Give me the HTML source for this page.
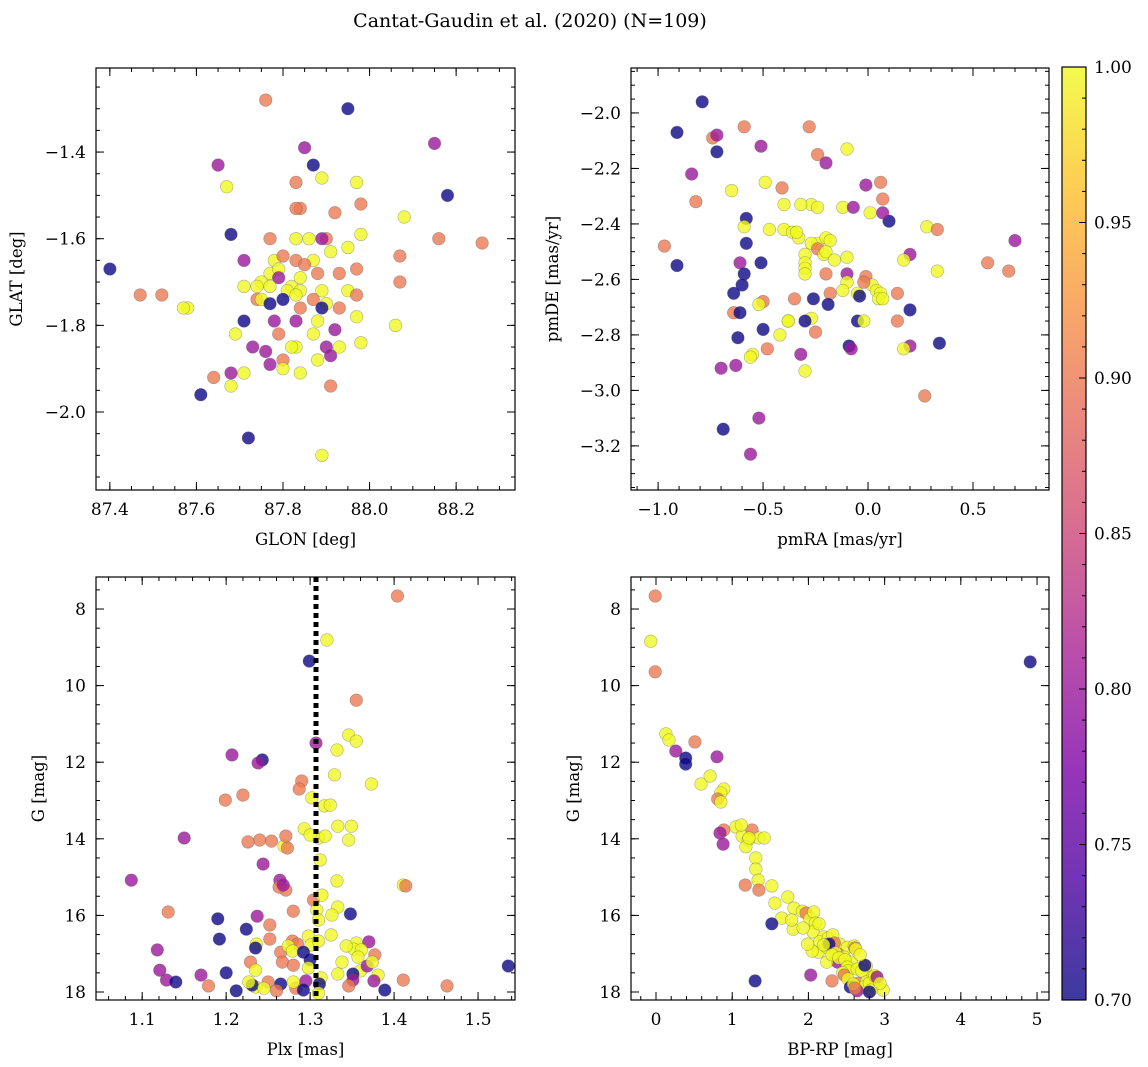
<!DOCTYPE html>
<html><head><meta charset="utf-8">
<style>
html,body{margin:0;padding:0;background:#fff;}
svg{display:block;font-family:"DejaVu Serif","Liberation Serif",serif;}
</style></head>
<body>
<svg id="fig" width="1148" height="1067" viewBox="0 0 1148 1067" xmlns="http://www.w3.org/2000/svg">
<defs>
<linearGradient id="plasma" x1="0" y1="1" x2="0" y2="0">
<stop offset="0" stop-color="#0d0887"/><stop offset="0.125" stop-color="#4c02a1"/>
<stop offset="0.25" stop-color="#7e03a8"/><stop offset="0.375" stop-color="#a92395"/>
<stop offset="0.5" stop-color="#cc4778"/><stop offset="0.625" stop-color="#e56b5d"/>
<stop offset="0.75" stop-color="#f89540"/><stop offset="0.875" stop-color="#fdc328"/>
<stop offset="1" stop-color="#f0f921"/>
</linearGradient>
</defs>
<text x="530" y="27" font-size="19" text-anchor="middle">Cantat-Gaudin et al. (2020) (N=109)</text>
</svg>
<script>
// ---------- data ----------
const glon=[87.76,87.95,87.85,88.15,87.65,87.87,87.83,87.67,87.89,87.97,87.84,87.83,87.92,87.98,88.18,88.08,87.68,87.77,87.83,87.86,87.90,87.89,87.98,88.16,88.26,88.07,87.91,87.95,87.40,87.71,87.78,87.80,87.83,87.87,87.77,87.79,87.85,87.93,87.97,88.07,87.75,87.79,87.82,87.84,87.88,87.52,87.71,87.74,87.77,87.81,87.84,87.89,87.95,87.58,87.74,87.75,87.80,87.83,87.87,87.90,87.93,87.84,87.89,87.97,87.77,87.97,88.06,87.71,87.78,87.83,87.88,87.92,87.69,87.79,87.87,87.98,87.73,87.83,87.80,87.76,87.82,87.90,87.93,87.91,87.77,87.80,87.84,87.88,87.68,87.64,87.71,87.68,87.61,87.91,87.72,87.89,87.47,87.57];
const glat=[-1.28,-1.30,-1.39,-1.38,-1.43,-1.43,-1.47,-1.48,-1.46,-1.47,-1.53,-1.53,-1.54,-1.52,-1.50,-1.55,-1.59,-1.60,-1.60,-1.60,-1.60,-1.60,-1.59,-1.60,-1.61,-1.64,-1.63,-1.62,-1.67,-1.65,-1.65,-1.64,-1.65,-1.65,-1.68,-1.67,-1.66,-1.68,-1.67,-1.70,-1.70,-1.69,-1.71,-1.69,-1.68,-1.73,-1.71,-1.71,-1.71,-1.72,-1.72,-1.72,-1.72,-1.76,-1.74,-1.74,-1.74,-1.73,-1.74,-1.75,-1.76,-1.76,-1.76,-1.73,-1.75,-1.78,-1.80,-1.79,-1.79,-1.79,-1.79,-1.81,-1.82,-1.82,-1.82,-1.84,-1.85,-1.85,-1.88,-1.86,-1.85,-1.85,-1.85,-1.87,-1.89,-1.90,-1.91,-1.88,-1.91,-1.92,-1.91,-1.94,-1.96,-1.94,-2.06,-2.10,-1.73,-1.76];
const probPos=[0.9,0.7,0.8,0.8,0.8,0.7,0.9,1,1,1,0.9,0.9,0.9,0.9,0.7,1,0.7,0.9,1,1,0.9,0.8,1,0.9,0.9,0.9,1,1,0.7,0.8,1,0.9,0.9,1,1,1,0.9,0.9,0.9,0.9,1,0.8,1,1,0.9,0.9,1,1,1,1,1,1,1,1,0.9,1,0.7,1,0.9,1,0.9,0.9,0.7,0.9,0.7,1,1,0.7,0.8,0.8,1,0.8,1,0.9,1,1,0.8,1,0.9,0.8,1,0.8,1,0.8,0.8,1,1,1,0.8,0.9,1,1,0.7,0.9,0.7,1,0.9,1];

const pmra=[-0.79,-0.91,-0.74,-0.72,-0.59,-0.28,-0.51,-0.72,-0.84,-0.24,-0.20,-0.10,0.06,-0.01,-0.82,-0.65,-0.49,-0.41,0.07,-0.12,-0.27,-0.32,-0.24,-0.40,-0.07,0.01,0.10,0.07,-0.58,-0.47,-0.40,-0.59,-0.36,-0.24,-0.20,-0.27,-0.18,0.28,0.33,-0.24,-0.21,-0.33,-0.34,-0.97,-0.58,-0.10,-0.30,-0.20,0.20,0.17,-0.91,-0.61,-0.51,-0.30,-0.30,-0.30,-0.20,-0.16,-0.10,-0.01,0.02,-0.59,0.57,0.70,-0.10,-0.02,0.04,0.06,-0.05,-0.12,-0.18,0.14,-0.60,-0.35,-0.26,0.05,-0.04,0.07,-0.50,-0.52,-0.64,0.33,0.20,-0.19,-0.38,-0.27,-0.30,-0.05,-0.02,0.14,-0.64,-0.38,-0.42,-0.25,-0.09,0.20,0.34,-0.62,-0.48,-0.32,-0.63,-0.55,-0.56,-0.70,-0.08,0.17,-0.30,0.67,-0.50,0.27,-0.52,-0.69,-0.56,-0.61];
const pmde=[-1.96,-2.07,-2.09,-2.08,-2.05,-2.05,-2.12,-2.14,-2.22,-2.15,-2.18,-2.13,-2.25,-2.26,-2.32,-2.28,-2.25,-2.27,-2.31,-2.34,-2.33,-2.33,-2.34,-2.33,-2.34,-2.36,-2.39,-2.36,-2.38,-2.42,-2.42,-2.41,-2.43,-2.47,-2.45,-2.47,-2.46,-2.41,-2.42,-2.49,-2.51,-2.45,-2.43,-2.48,-2.47,-2.52,-2.51,-2.50,-2.51,-2.53,-2.55,-2.54,-2.54,-2.54,-2.56,-2.58,-2.58,-2.53,-2.58,-2.59,-2.62,-2.58,-2.54,-2.46,-2.61,-2.61,-2.64,-2.65,-2.65,-2.64,-2.65,-2.65,-2.62,-2.67,-2.67,-2.67,-2.66,-2.67,-2.68,-2.69,-2.65,-2.57,-2.71,-2.69,-2.75,-2.74,-2.75,-2.75,-2.75,-2.75,-2.72,-2.75,-2.80,-2.79,-2.84,-2.84,-2.83,-2.81,-2.85,-2.87,-2.91,-2.87,-2.88,-2.92,-2.85,-2.85,-2.93,-2.57,-2.78,-3.02,-3.10,-3.14,-3.23,-2.72];
const probPm=[0.7,0.7,0.9,0.8,0.9,0.9,0.8,0.7,0.8,0.9,0.8,1,0.9,0.8,0.9,1,1,0.9,0.9,1,1,1,1,1,0.8,1,0.7,0.8,0.7,1,1,1,1,1,1,1,1,1,0.9,0.9,1,1,1,0.9,0.7,1,1,1,0.8,1,0.7,0.8,0.7,1,1,1,0.9,1,0.8,0.9,1,0.7,0.9,0.8,1,0.9,1,1,1,1,0.9,0.9,0.7,0.9,0.7,1,0.7,1,0.9,1,0.7,1,0.7,0.7,1,1,0.7,0.7,1,0.9,0.9,1,1,0.9,0.7,0.8,0.7,0.7,0.9,0.8,0.8,1,1,0.8,0.8,1,1,0.9,0.7,0.9,0.8,0.7,0.8,0.7];

const plx=[1.404,1.320,1.299,1.355,1.346,1.355,1.332,1.307,1.207,1.243,1.238,1.373,1.290,1.329,1.287,1.220,1.199,1.302,1.317,1.324,1.293,1.240,1.254,1.226,1.269,1.273,1.310,1.333,1.349,1.346,1.300,1.318,1.150,1.271,1.244,1.312,1.087,1.271,1.264,1.263,1.332,1.411,1.414,1.304,1.268,1.314,1.131,1.280,1.308,1.333,1.326,1.310,1.348,1.237,1.190,1.252,1.224,1.325,1.236,1.298,1.279,1.285,1.301,1.310,1.252,1.192,1.118,1.265,1.355,1.370,1.352,1.361,1.274,1.279,1.235,1.343,1.357,1.377,1.292,1.338,1.333,1.360,1.229,1.267,1.280,1.300,1.368,1.374,1.200,1.170,1.235,1.381,1.298,1.313,1.376,1.351,1.121,1.129,1.351,1.411,1.346,1.295,1.311,1.250,1.265,1.140,1.179,1.235,1.231,1.283,1.227,1.280,1.212,1.260,1.245,1.292,1.389,1.463,1.536,1.310];
const gPlx=[7.66,8.81,9.36,10.38,11.29,11.45,11.68,11.50,11.81,11.94,12.02,12.57,12.49,12.33,12.70,12.86,12.99,12.93,13.14,13.12,13.74,14.03,14.06,14.08,14.19,14.24,13.98,13.67,13.67,14.03,13.90,13.93,13.98,13.93,14.66,14.55,15.08,15.34,15.08,15.26,15.10,15.21,15.23,15.60,15.21,15.47,15.91,15.89,15.86,15.78,15.99,16.12,15.96,16.02,16.09,16.25,16.36,16.51,16.75,16.54,16.67,16.75,16.77,16.67,16.62,16.62,16.90,16.96,16.72,16.69,16.88,16.90,16.80,16.93,16.85,16.80,17.09,17.03,16.96,17.22,17.53,17.45,17.22,17.22,17.30,17.16,17.32,17.22,17.50,17.56,17.43,17.56,17.37,17.63,17.71,17.53,17.43,17.69,17.69,17.69,17.84,17.71,17.79,17.74,17.79,17.74,17.84,17.87,17.82,17.90,17.74,17.74,17.97,17.97,17.90,17.95,17.95,17.84,17.32,18.03];
const probPlx=[0.9,1,0.7,0.9,1,1,1,0.8,0.8,0.7,0.8,1,0.9,1,0.9,0.9,0.9,1,1,1,1,0.9,0.9,0.9,1,0.9,1,1,1,1,1,1,0.8,0.9,0.8,1,0.8,0.9,0.8,0.9,1,1,0.9,0.9,0.8,1,0.9,0.9,1,1,1,1,0.7,0.8,0.7,0.9,0.7,1,1,1,0.9,0.9,1,1,0.9,0.7,0.8,0.9,1,0.8,1,1,1,1,0.7,1,1,0.9,0.7,1,1,1,0.9,0.9,0.9,0.7,0.8,1,0.7,0.8,1,1,1,1,0.8,0.7,0.8,0.8,0.8,0.9,0.9,0.8,0.7,0.9,0.7,0.7,0.9,1,0.7,0.9,1,1,0.7,0.9,1,0.7,0.7,0.9,0.7,1];
const meanPlx=[1.307];

const bprp=[-0.01,-0.07,-0.01,0.13,0.17,0.26,0.51,0.39,0.39,0.80,0.59,0.71,0.89,0.85,0.81,0.85,0.89,1.05,1.13,1.26,1.12,1.35,1.21,1.42,1.18,0.84,0.88,1.22,1.31,1.31,1.34,1.35,1.17,1.52,1.56,1.73,1.65,1.52,1.80,1.81,1.92,1.97,2.02,2.07,2.09,2.06,2.14,2.20,2.15,2.13,2.24,2.26,2.32,2.41,2.51,2.60,2.34,2.39,2.38,2.27,2.20,2.05,2.03,2.36,2.47,2.56,2.24,2.31,2.40,2.48,2.51,2.52,2.45,2.47,2.61,2.52,2.65,2.81,2.64,2.76,2.70,2.76,2.89,2.86,2.98,2.73,2.55,2.64,2.62,2.74,2.80,2.87,2.82,2.90,2.80,2.94,1.99,2.68,2.31,2.59,2.61,1.30,4.91,1.78,1.93];
const gCmd=[7.66,8.84,9.64,11.26,11.42,11.71,11.47,11.89,12.05,11.86,12.57,12.36,12.70,12.80,12.96,13.04,13.77,13.69,13.93,13.77,13.64,13.98,14.03,13.98,14.21,13.85,14.14,13.98,14.50,14.79,15.08,15.34,15.21,15.23,15.68,15.52,16.07,16.22,16.36,15.81,15.89,15.94,16.09,15.91,16.20,16.43,16.22,16.56,16.69,16.96,16.83,16.59,16.51,16.75,16.83,16.80,16.72,17.01,17.22,16.75,16.77,16.93,17.56,16.98,17.09,17.22,17.22,17.03,17.11,17.16,17.35,17.45,17.50,17.56,16.85,17.66,17.77,17.61,17.40,17.32,17.45,17.74,17.71,17.84,17.95,17.87,17.87,17.97,16.88,17.30,17.77,17.58,17.95,17.61,18.00,17.77,16.75,17.03,17.71,17.79,17.90,17.71,9.38,16.12,16.33];
const probCmd=[0.9,1,0.9,1,1,0.8,0.9,0.7,0.7,0.8,1,1,1,1,0.9,1,0.9,1,1,0.9,1,1,1,1,1,0.8,0.8,1,1,1,1,0.9,0.9,1,1,1,1,0.7,1,1,1,0.9,1,1,1,1,1,1,1,1,1,1,1,1,1,1,0.9,0.9,0.8,0.7,1,1,0.8,1,1,1,1,1,1,1,1,1,1,0.9,0.9,1,0.9,1,1,1,1,1,1,1,1,1,0.7,0.8,1,0.7,1,1,1,0.8,0.7,1,1,1,0.9,1,0.9,0.7,0.7,1,1];

const cbTicks=[0.70,0.75,0.80,0.85,0.90,0.95,1.00];

// ---------- helpers ----------
const NS='http://www.w3.org/2000/svg';
const svg=document.getElementById('fig');
function mk(tag,attrs,parent){const e=document.createElementNS(NS,tag);for(const k in attrs)e.setAttribute(k,attrs[k]);(parent||svg).appendChild(e);return e;}
const stops=[[13,8,135],[76,2,161],[126,3,168],[169,35,149],[204,71,120],[229,107,93],[248,149,64],[253,195,40],[240,249,33]];
function plasma(v){let t=(v-0.7)/0.3;t=Math.max(0,Math.min(1,t));const f=t*8;const i=Math.min(7,Math.floor(f));const r=f-i;const a=stops[i],b=stops[i+1];return `rgb(${Math.round(a[0]+(b[0]-a[0])*r)},${Math.round(a[1]+(b[1]-a[1])*r)},${Math.round(a[2]+(b[2]-a[2])*r)})`;}
function fmt(v,d){const s=Math.abs(v).toFixed(d);return (v<-1e-9?'\u2212':'')+s;}

function panel(cfg){
  const {name,L,T,W,H,x0,x1,y0,y1,xs,ys}=cfg;
  const g=mk('g',{});
  
  
  const X=v=>L+(v-x0)/(x1-x0)*W;
  const Y=v=>T+(v-y0)/(y1-y0)*H;
  const pg=mk('g',{},g);
  
  
  for(let i=0;i<xs.length;i++){
    const c=mk('circle',{cx:X(xs[i]).toFixed(1),cy:Y(ys[i]).toFixed(1),r:6.3,fill:plasma(cfg.p[i]),'fill-opacity':0.8,stroke:'#555','stroke-opacity':0.45,'stroke-width':0.6},pg);
    
    
  }
  if(cfg.extra)cfg.extra(g,X,Y);
  const fr=mk('rect',{x:L,y:T,width:W,height:H,fill:'none',stroke:'#000','stroke-width':1.2},g);
  
  
  const tg=mk('g',{stroke:'#000','stroke-width':1},g);
  const inr=(v,a,b)=>v>=Math.min(a,b)-1e-9&&v<=Math.max(a,b)+1e-9;
  const lo=Math.min(x0,x1),hi=Math.max(x0,x1);
  for(let v=Math.ceil(lo/cfg.xmin-1e-6)*cfg.xmin;v<=hi+1e-9;v+=cfg.xmin){const x=X(v);mk('line',{x1:x,x2:x,y1:T+H,y2:T+H-4},tg);mk('line',{x1:x,x2:x,y1:T,y2:T+4},tg);}
  const ylo=Math.min(y0,y1),yhi=Math.max(y0,y1);
  for(let v=Math.ceil(ylo/cfg.ymin-1e-6)*cfg.ymin;v<=yhi+1e-9;v+=cfg.ymin){const y=Y(v);mk('line',{x1:L,x2:L+4,y1:y,y2:y},tg);mk('line',{x1:L+W,x2:L+W-4,y1:y,y2:y},tg);}
  cfg.xt.forEach(v=>{if(!inr(v,x0,x1))return;const x=X(v);mk('line',{x1:x,x2:x,y1:T+H,y2:T+H-8},tg);mk('line',{x1:x,x2:x,y1:T,y2:T+8},tg);
    const t=mk('text',{x:x,y:T+H+25,'font-size':17,'text-anchor':'middle'},g);t.textContent=fmt(v,cfg.xd);
    });
  cfg.yt.forEach(v=>{if(!inr(v,y0,y1))return;const y=Y(v);mk('line',{x1:L,x2:L+8,y1:y,y2:y},tg);mk('line',{x1:L+W,x2:L+W-8,y1:y,y2:y},tg);
    const t=mk('text',{x:L-10,y:y+6,'font-size':17,'text-anchor':'end'},g);t.textContent=fmt(v,cfg.yd);
    });
  const xl=mk('text',{x:L+W/2,y:T+H+55,'font-size':16.5,'text-anchor':'middle'},g);xl.textContent=cfg.xlabel;
  
  const yx=cfg.ylx, yy=T+H/2;
  const yl=mk('text',{x:yx,y:yy,'font-size':16.5,'text-anchor':'middle',transform:`rotate(-90 ${yx} ${yy})`},g);yl.textContent=cfg.ylabel;
  
}

panel({name:'glon-glat-panel',L:96,T:68,W:419,H:422,x0:87.368,x1:88.336,y0:-1.206,y1:-2.180,xs:glon,ys:glat,p:probPos,
  xt:[87.4,87.6,87.8,88.0,88.2],xd:1,yt:[-1.4,-1.6,-1.8,-2.0],yd:1,xmin:0.05,ymin:0.05,xlabel:'GLON [deg]',ylabel:'GLAT [deg]',ylx:22});
panel({name:'proper-motion-panel',L:631,T:68,W:418,H:422,x0:-1.129,x1:0.862,y0:-1.838,y1:-3.359,xs:pmra,ys:pmde,p:probPm,
  xt:[-1.0,-0.5,0.0,0.5],xd:1,yt:[-2.0,-2.2,-2.4,-2.6,-2.8,-3.0,-3.2],yd:1,xmin:0.1,ymin:0.05,xlabel:'pmRA [mas/yr]',ylabel:'pmDE [mas/yr]',ylx:558});
panel({name:'parallax-g-panel',L:96,T:577,W:419,H:423,x0:1.045,x1:1.544,y0:7.164,y1:18.209,xs:plx,ys:gPlx,p:probPlx,
  xt:[1.1,1.2,1.3,1.4,1.5],xd:1,yt:[8,10,12,14,16,18],yd:0,xmin:0.02,ymin:0.5,xlabel:'Plx [mas]',ylabel:'G [mag]',ylx:44,
  extra:(g,X,Y)=>{const l=mk('line',{x1:X(meanPlx[0]),x2:X(meanPlx[0]),y1:577,y2:1000,stroke:'#000','stroke-width':5,'stroke-dasharray':'5 4'},g);
    }});
panel({name:'cmd-panel',L:631,T:577,W:418,H:423,x0:-0.328,x1:5.157,y0:7.164,y1:18.209,xs:bprp,ys:gCmd,p:probCmd,
  xt:[0,1,2,3,4,5],xd:0,yt:[8,10,12,14,16,18],yd:0,xmin:0.2,ymin:0.5,xlabel:'BP-RP [mag]',ylabel:'G [mag]',ylx:579});

const cb=mk('g',{});


const CT=67,CB=1000,CL=1062,CW=24;
mk('rect',{x:CL,y:CT,width:CW,height:CB-CT,fill:'url(#plasma)','fill-opacity':0.8},cb);
mk('rect',{x:CL,y:CT,width:CW,height:CB-CT,fill:'none',stroke:'#000','stroke-width':1.2},cb);
cbTicks.forEach(v=>{const y=CB-(v-0.7)/0.3*(CB-CT);
  mk('line',{x1:CL+CW-7,x2:CL+CW,y1:y,y2:y,stroke:'#000'},cb);
  const t=mk('text',{x:CL+CW+8,y:y+6,'font-size':17},cb);t.textContent=v.toFixed(2);
  });
for(let v=0.71;v<1.0;v+=0.01){const y=CB-(v-0.7)/0.3*(CB-CT);mk('line',{x1:CL+CW-4,x2:CL+CW,y1:y,y2:y,stroke:'#000'},cb);}
</script>
</body></html>
